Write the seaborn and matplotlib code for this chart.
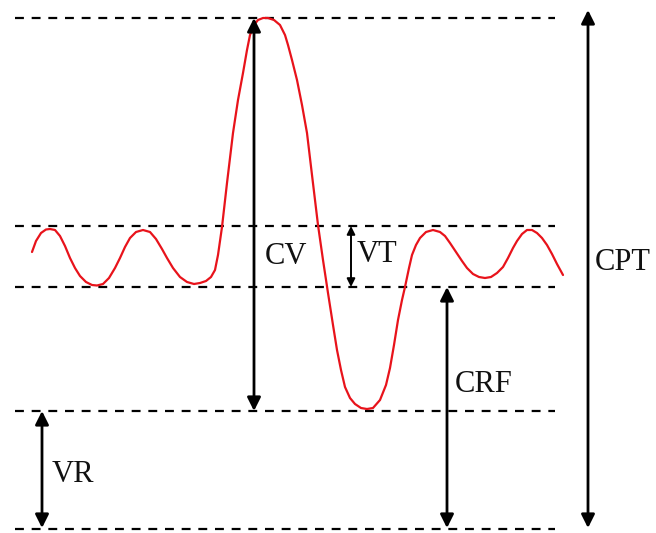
import numpy as np
import pandas as pd
import matplotlib
matplotlib.use("Agg")
import matplotlib.pyplot as plt
import seaborn as sns

# Breathing trace (time in arbitrary units, volume in arbitrary units)
time = [32, 36, 41, 46, 50, 55, 60, 65, 70, 75, 80, 86, 92, 97, 103, 109, 115, 120,
        125, 130, 136, 143, 150, 156, 162, 167, 173, 180, 187, 194, 200, 206, 211, 215,
        218, 222, 227, 233, 238, 243, 247, 250, 254, 258, 263, 268, 274, 280, 285, 288,
        292, 297, 302, 307, 312, 318, 323, 328, 333, 337, 341, 345, 350, 355, 361, 367,
        373, 380, 386, 390, 394, 398, 402, 405, 409, 412, 416, 420, 426, 433, 440, 445,
        450, 456, 462, 467, 473, 479, 485, 491, 497, 503, 508, 513, 517, 522, 527, 532,
        537, 542, 547, 552, 557, 563]
volume = [277, 288, 296, 299.5, 300, 299, 293, 283, 271, 261, 253, 247, 244, 243.5, 245, 251, 261, 271,
          282, 291, 297, 299, 297, 290, 280, 271, 261, 252, 247, 245, 246, 248, 252, 259,
          274, 302, 346, 396, 429, 456, 479, 494, 504, 509, 511, 511, 509, 504, 494, 484,
          469, 449, 424, 396, 354, 304, 269, 236, 204, 179, 159, 142, 131, 125, 121, 120,
          121, 129, 144, 161, 184, 209, 229, 242, 261, 274, 284, 291, 297, 299, 297, 293,
          286, 277, 268, 261, 255, 252, 251, 252, 256, 262, 271, 281, 288, 295, 299, 299,
          296, 291, 284, 275, 265, 254]

# Reference levels (TLC, upper tidal, FRC, RV, zero)
levels = [511, 303, 242, 118, 0]

# Bracket arrows: label, x, bottom, top, label x, label y
labels = ["CV", "VT", "CRF", "VR", "CPT"]
arrow_x = [254, 351, 447, 42, 588]
arrow_lo = [118, 242, 1, 1, 1]
arrow_hi = [511, 303, 242, 118, 519]
label_x = [265, 357, 455, 52, 595]
label_y = [273, 274, 144, 54, 267]

sns.set_style("white")
plt.rcParams["font.family"] = ["Liberation Serif", "DejaVu Serif"]

fig = plt.figure(figsize=(6.56, 5.33), dpi=100)
ax = fig.add_axes([0, 0, 1, 1])

ax.hlines(levels, 15, 555, colors="black", linewidth=1.6, linestyles=(0, (4, 3.5)))

df = pd.DataFrame({"time": time, "volume": volume})
sns.lineplot(data=df, x="time", y="volume", color="#e8131b", linewidth=1.6, sort=False,
             solid_joinstyle="round", solid_capstyle="round", ax=ax)

for lab, x, lo, hi, lx, ly in zip(labels, arrow_x, arrow_lo, arrow_hi, label_x, label_y):
    small = lab == "VT"
    ax.annotate("", xy=(x, hi), xytext=(x, lo),
                arrowprops=dict(arrowstyle="<|-|>", color="black",
                                lw=1.4 if small else 2.0,
                                mutation_scale=12 if small else 20,
                                shrinkA=0, shrinkB=0))
    ax.text(lx, ly, lab, fontsize=22, color="#111111", ha="left", va="center")

ax.set_xlim(0, 656)
ax.set_ylim(-4, 529)
ax.set_axis_off()

fig.savefig("out.png", dpi=100, facecolor="white")
